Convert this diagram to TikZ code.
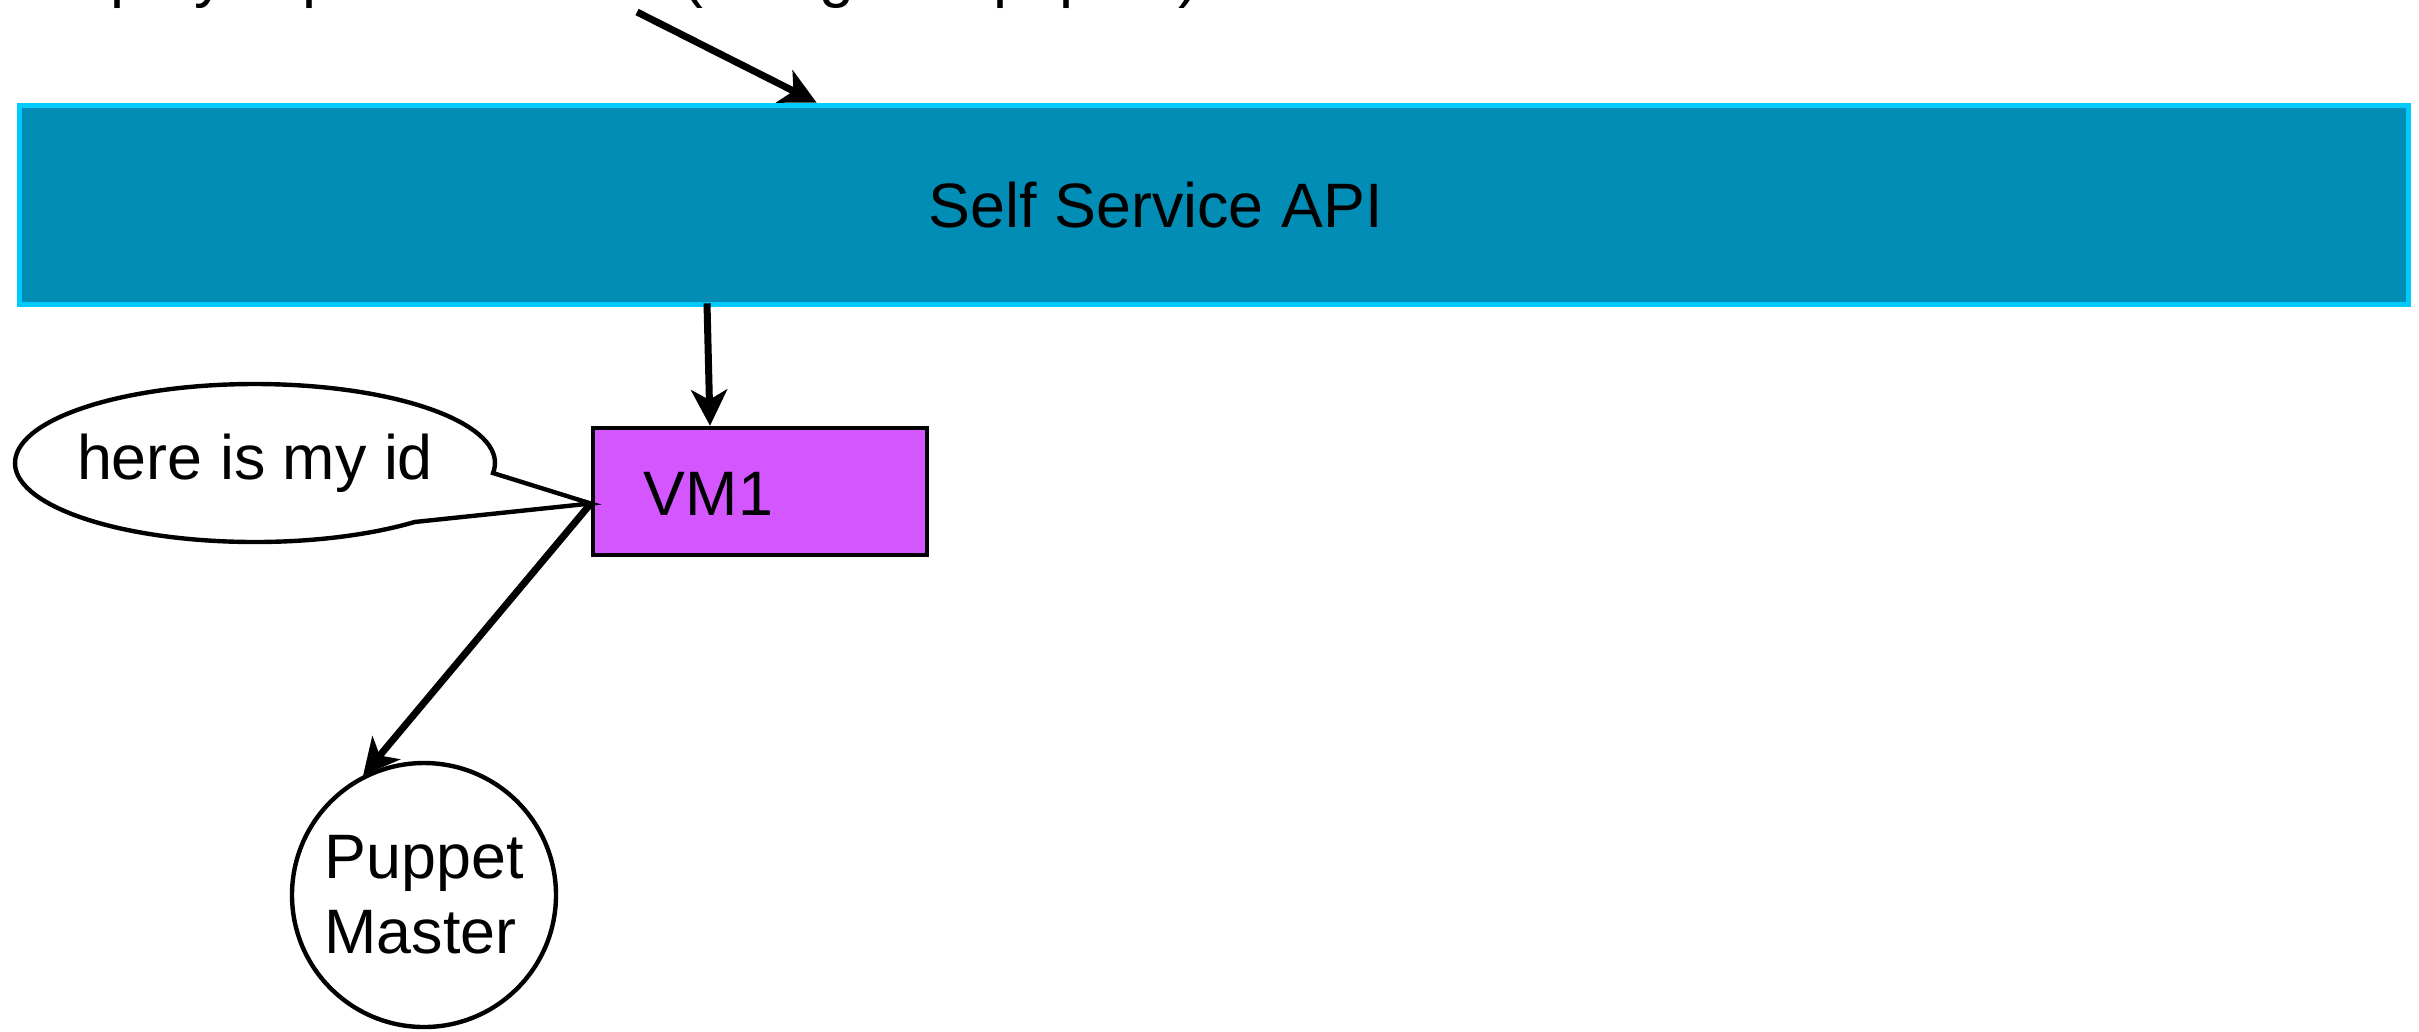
\documentclass[tikz,border=0pt]{standalone}
\usepackage{fontspec}
\setmainfont{Liberation Sans}
\usetikzlibrary{arrows.meta,calc,shapes.geometric}

\definecolor{apifill}{RGB}{2,141,182}
\definecolor{apiedge}{RGB}{0,202,252}
\definecolor{vmfill}{RGB}{211,86,255}

\tikzset{
  lbl/.style={inner sep=0pt, font=\fontsize{15.7pt}{18.75pt}\selectfont},
  apibox/.style={draw=apiedge, fill=apifill, line width=1.4pt, inner sep=0pt},
  vmbox/.style={draw=black, fill=vmfill, line width=1.1pt, inner sep=0pt},
  master/.style={circle, draw=black, fill=white, line width=1.1pt, inner sep=0pt, align=left},
  bubbleline/.style={draw=black, fill=white, line width=1.1pt, line join=miter},
  flow/.style={line width=1.75pt, -{Stealth[length=9pt, width=9pt, inset=2.5pt]}}
}

\begin{document}
\begin{tikzpicture}[x=0.25pt, y=-0.25pt]
  \clip (0,0) rectangle (2419,1031);
  \fill[white] (0,0) rectangle (2419,1031);

  % request line above the API (only its lowest part is inside the frame)
  \node[lbl, anchor=base west] (request) at (40,-5) {deploy \& provision VM (using an api post)};
  \coordinate (req) at (637,12);

  % Self Service API bar
  \node[apibox, minimum width=597.25pt, minimum height=49.75pt] (api) at (1214,205) {};
  \node[lbl, anchor=base west] (apilabel) at (928,227) {Self Service API};

  % VM1
  \node[vmbox, minimum width=83.5pt, minimum height=31.75pt] (vm) at (760,491.5) {};
  \node[lbl, anchor=base west] (vmlabel) at (643,515) {VM1};

  % Puppet Master
  \node[master, lbl, minimum size=66pt, draw, line width=1.1pt] (pm) at (424,895) {Puppet\\Master};

  % speech bubble of VM1
  \coordinate (tip) at ($(vm.west)+(0,12)$);
  \node[ellipse, inner sep=0pt, minimum width=119pt, minimum height=38.5pt] (bubble) at (255,463) {};
  \draw[bubbleline] ($(bubble.center)+({240*cos(7.3)},{79*sin(7.3)})$)
      arc[start angle=7.3, end angle=-311.7, x radius=240, y radius=79]
      -- (tip) -- cycle;
  \node[lbl] (bubbletext) at (bubble.center) {here is my id};

  % connectors
  \draw[flow] (req) -- ($(api.north west)+(800,0)$);
  \draw[flow] ($(api.south)+(-507,-4)$) -- ($(vm.north)+(-50,0)$);
  \draw[flow] (tip) -- (pm.117);
\end{tikzpicture}
\end{document}
